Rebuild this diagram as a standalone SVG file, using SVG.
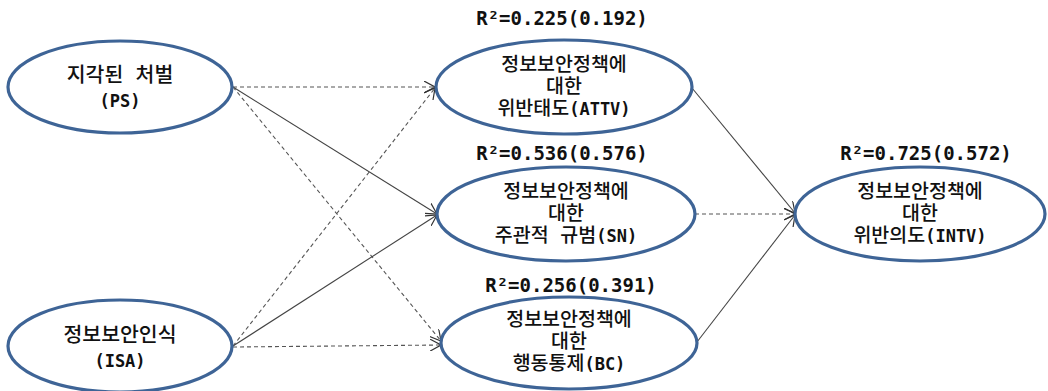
<svg xmlns="http://www.w3.org/2000/svg" width="1048" height="391" viewBox="0 0 1048 391">
<style>
.node ellipse{fill:#fff;stroke:#3E6496;stroke-width:3.2}
.t{font-family:"DejaVu Sans Mono","Noto Sans CJK KR",monospace;font-size:19.5px;font-weight:500;fill:#111;text-anchor:middle}
.b{font-weight:bold;font-size:17px}
.k{font-size:20.5px}
.r{font-family:"DejaVu Sans Mono","Noto Sans CJK KR",monospace;font-size:19px;font-weight:bold;fill:#111;text-anchor:middle}
.s{stroke:#444;stroke-width:1.1;fill:none}
.d{stroke:#555;stroke-width:1.1;fill:none;stroke-dasharray:4 3}
</style>
<defs>
<marker id="a" viewBox="0 0 12 12" refX="11" refY="6" markerWidth="12" markerHeight="12" markerUnits="userSpaceOnUse" orient="auto">
<path d="M0,0 L11,6 L0,12" fill="none" stroke="#333" stroke-width="1.2"/>
</marker>
</defs>
<g id="connectors">
<line class="d" x1="233" y1="87" x2="435" y2="87" marker-end="url(#a)"/>
<line class="s" x1="233" y1="87" x2="437" y2="214" marker-end="url(#a)"/>
<line class="d" x1="233" y1="87" x2="441" y2="341" marker-end="url(#a)"/>
<line class="d" x1="233" y1="346" x2="435" y2="88" marker-end="url(#a)"/>
<line class="s" x1="233" y1="346" x2="437" y2="215" marker-end="url(#a)"/>
<line class="d" x1="233" y1="347" x2="441" y2="345" marker-end="url(#a)"/>
<line class="s" x1="692" y1="88" x2="795" y2="213" marker-end="url(#a)"/>
<line class="d" x1="695" y1="214" x2="795" y2="214" marker-end="url(#a)"/>
<line class="s" x1="697" y1="342" x2="795" y2="215" marker-end="url(#a)"/>
</g>
<g id="PS" class="node">
<ellipse cx="120" cy="87" rx="112" ry="46"/>
<text class="t k" x="120" y="82">지각된 처벌</text>
<text class="t b" x="120" y="107">(PS)</text>
</g>
<g id="ISA" class="node">
<ellipse cx="120" cy="346" rx="112" ry="46"/>
<text class="t k" x="120" y="342">정보보안인식</text>
<text class="t b" x="120" y="367">(ISA)</text>
</g>
<g id="ATTV" class="node">
<text class="r" x="562" y="25">R²=0.225(0.192)</text>
<ellipse cx="564" cy="87" rx="128" ry="47"/>
<text class="t" x="564" y="71">정보보안정책에</text>
<text class="t" x="564" y="93">대한</text>
<text class="t" x="564" y="115">위반태도<tspan class="b">(ATTV)</tspan></text>
</g>
<g id="SN" class="node">
<text class="r" x="562" y="160">R²=0.536(0.576)</text>
<ellipse cx="566" cy="214" rx="129" ry="47"/>
<text class="t" x="566" y="198">정보보안정책에</text>
<text class="t" x="566" y="220">대한</text>
<text class="t" x="566" y="242">주관적 규범<tspan class="b">(SN)</tspan></text>
</g>
<g id="BC" class="node">
<text class="r" x="571" y="292">R²=0.256(0.391)</text>
<ellipse cx="569" cy="343" rx="128" ry="46"/>
<text class="t" x="569" y="326">정보보안정책에</text>
<text class="t" x="569" y="348">대한</text>
<text class="t" x="569" y="370">행동통제<tspan class="b">(BC)</tspan></text>
</g>
<g id="INTV" class="node">
<text class="r" x="926" y="160">R²=0.725(0.572)</text>
<ellipse cx="920" cy="214" rx="125" ry="47"/>
<text class="t" x="920" y="198">정보보안정책에</text>
<text class="t" x="920" y="220">대한</text>
<text class="t" x="920" y="242">위반의도<tspan class="b">(INTV)</tspan></text>
</g>
</svg>
